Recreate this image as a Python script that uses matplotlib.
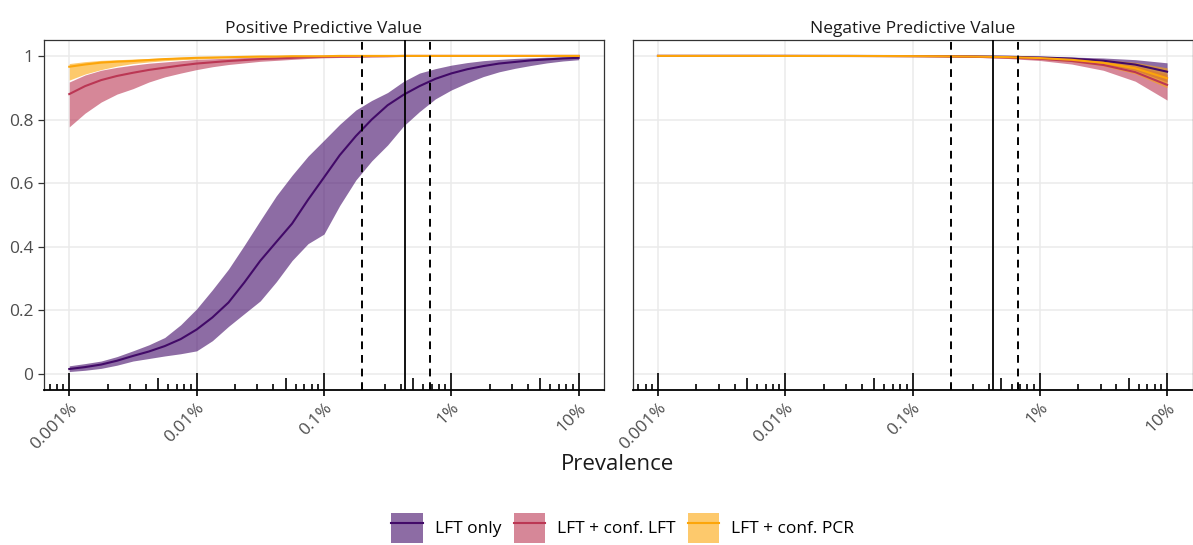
import numpy as np
import matplotlib
matplotlib.use('Agg')
import matplotlib.pyplot as plt
from matplotlib.patches import Patch
from matplotlib.lines import Line2D
import matplotlib.transforms as mtrans

plt.rcParams['font.family'] = ['Open Sans', 'DejaVu Sans']

### Data
# PPV panel, eighth-decade steps (percent)
prev_ppv = [0.001, 0.00133, 0.00178, 0.00237, 0.00316, 0.00422, 0.00562, 0.0075,
            0.01, 0.0133, 0.0178, 0.0237, 0.0316, 0.0422, 0.0562, 0.075,
            0.1, 0.133, 0.178, 0.237, 0.316, 0.422, 0.562, 0.75,
            1.0, 1.33, 1.78, 2.37, 3.16, 4.22, 5.62, 7.5, 10.0]
# NPV panel, quarter-decade steps (percent)
prev_npv = [0.001, 0.00178, 0.00316, 0.00562, 0.01, 0.0178, 0.0316, 0.0562,
            0.1, 0.178, 0.316, 0.562, 1.0, 1.78, 3.16, 5.62, 10.0]

tick_pos = [0.001, 0.01, 0.1, 1, 10]
tick_labels = ['0.001%', '0.01%', '0.1%', '1%', '10%']
prev_mid = 0.43            # solid line
prev_ci = [0.2, 0.68]      # dashed lines

series = ['LFT only', 'LFT + conf. LFT', 'LFT + conf. PCR']
fills = ['#420A68', '#BB3754', '#FCA50A']

# positive predictive value
ppv_lft = [0.016, 0.022, 0.030, 0.042, 0.057, 0.071, 0.088, 0.11,
           0.14, 0.178, 0.225, 0.288, 0.356, 0.415, 0.473, 0.548,
           0.618, 0.688, 0.748, 0.80, 0.845, 0.878, 0.905, 0.928,
           0.945, 0.958, 0.968, 0.976, 0.981, 0.986, 0.989, 0.992, 0.994]
ppv_lft_lo = [0.008, 0.012, 0.018, 0.028, 0.041, 0.049, 0.057, 0.064,
              0.073, 0.105, 0.15, 0.19, 0.23, 0.29, 0.357, 0.41,
              0.44, 0.53, 0.61, 0.67, 0.72, 0.78, 0.825, 0.865,
              0.893, 0.915, 0.935, 0.95, 0.961, 0.97, 0.978, 0.984, 0.988]
ppv_lft_hi = [0.026, 0.033, 0.041, 0.055, 0.073, 0.092, 0.115, 0.155,
              0.205, 0.265, 0.33, 0.405, 0.483, 0.56, 0.625, 0.685,
              0.735, 0.785, 0.83, 0.86, 0.885, 0.92, 0.946, 0.96,
              0.971, 0.979, 0.985, 0.989, 0.992, 0.994, 0.996, 0.997, 0.998]
ppv_conf = [0.88, 0.905, 0.924, 0.937, 0.947, 0.956, 0.963, 0.97,
            0.976, 0.98, 0.984, 0.987, 0.99, 0.992, 0.994, 0.996,
            0.997, 0.998, 0.998, 0.999, 0.999, 1.0, 1.0, 1.0,
            1.0, 1.0, 1.0, 1.0, 1.0, 1.0, 1.0, 1.0, 1.0]
ppv_conf_lo = [0.777, 0.82, 0.855, 0.88, 0.897, 0.918, 0.934, 0.946,
               0.957, 0.966, 0.973, 0.978, 0.983, 0.986, 0.989, 0.992,
               0.994, 0.995, 0.996, 0.997, 0.998, 0.998, 0.999, 0.999,
               0.999, 1.0, 1.0, 1.0, 1.0, 1.0, 1.0, 1.0, 1.0]
ppv_conf_hi = [0.918, 0.94, 0.955, 0.964, 0.971, 0.977, 0.981, 0.985,
               0.989, 0.991, 0.993, 0.995, 0.996, 0.997, 0.998, 0.999,
               0.999, 1.0, 1.0, 1.0, 1.0, 1.0, 1.0, 1.0,
               1.0, 1.0, 1.0, 1.0, 1.0, 1.0, 1.0, 1.0, 1.0]
ppv_pcr = [0.966, 0.973, 0.979, 0.982, 0.984, 0.987, 0.99, 0.992,
           0.994, 0.995, 0.996, 0.997, 0.998, 0.998, 0.999, 0.999,
           0.999, 1.0, 1.0, 1.0, 1.0, 1.0, 1.0, 1.0,
           1.0, 1.0, 1.0, 1.0, 1.0, 1.0, 1.0, 1.0, 1.0]
ppv_pcr_lo = [0.924, 0.943, 0.957, 0.968, 0.976, 0.981, 0.985, 0.988,
              0.99, 0.992, 0.994, 0.995, 0.996, 0.997, 0.998, 0.998,
              0.999, 0.999, 0.999, 1.0, 1.0, 1.0, 1.0, 1.0,
              1.0, 1.0, 1.0, 1.0, 1.0, 1.0, 1.0, 1.0, 1.0]
ppv_pcr_hi = [0.976, 0.982, 0.986, 0.988, 0.99, 0.992, 0.994, 0.996,
              0.997, 0.998, 0.998, 0.999, 0.999, 1.0, 1.0, 1.0,
              1.0, 1.0, 1.0, 1.0, 1.0, 1.0, 1.0, 1.0,
              1.0, 1.0, 1.0, 1.0, 1.0, 1.0, 1.0, 1.0, 1.0]

# negative predictive value
npv_lft = [1.0, 1.0, 1.0, 1.0, 1.0, 0.9999, 0.9999, 0.9997, 0.9995, 0.9992,
           0.9985, 0.9974, 0.9953, 0.9916, 0.9849, 0.9728, 0.9504]
npv_lft_lo = [1.0, 1.0, 1.0, 1.0, 0.9999, 0.9999, 0.9997, 0.9996, 0.9992, 0.9986,
              0.9975, 0.9955, 0.992, 0.9857, 0.9745, 0.9545, 0.9184]
npv_lft_hi = [1.0, 1.0, 1.0, 1.0, 1.0, 1.0, 0.9999, 0.9999, 0.9998, 0.9996,
              0.9994, 0.9989, 0.998, 0.9964, 0.9935, 0.9882, 0.9783]
npv_conf = [1.0, 1.0, 1.0, 1.0, 0.9999, 0.9998, 0.9997, 0.9995, 0.9991, 0.9984,
            0.9972, 0.9949, 0.991, 0.984, 0.9715, 0.9491, 0.909]
npv_conf_lo = [1.0, 1.0, 0.9999, 0.9999, 0.9999, 0.9997, 0.9995, 0.9992, 0.9986, 0.9974,
               0.9954, 0.9919, 0.9856, 0.9744, 0.9548, 0.9205, 0.8612]
npv_conf_hi = [1.0, 1.0, 1.0, 1.0, 0.9999, 0.9999, 0.9998, 0.9997, 0.9994, 0.999,
               0.9983, 0.9969, 0.9945, 0.9901, 0.9824, 0.9683, 0.9424]
npv_pcr = [1.0, 1.0, 1.0, 1.0, 0.9999, 0.9999, 0.9998, 0.9996, 0.9993, 0.9988,
           0.9978, 0.9962, 0.9932, 0.9878, 0.9783, 0.9611, 0.9298]
npv_pcr_lo = [1.0, 1.0, 1.0, 0.9999, 0.9999, 0.9998, 0.9997, 0.9994, 0.999, 0.9982,
              0.9968, 0.9944, 0.99, 0.9822, 0.9684, 0.9438, 0.9]
npv_pcr_hi = [1.0, 1.0, 1.0, 1.0, 1.0, 0.9999, 0.9999, 0.9998, 0.9997, 0.9994,
              0.9989, 0.998, 0.9965, 0.9937, 0.9887, 0.9796, 0.9626]

panels = [
    ('Positive Predictive Value', prev_ppv,
     [(ppv_lft, ppv_lft_lo, ppv_lft_hi), (ppv_conf, ppv_conf_lo, ppv_conf_hi),
      (ppv_pcr, ppv_pcr_lo, ppv_pcr_hi)]),
    ('Negative Predictive Value', prev_npv,
     [(npv_lft, npv_lft_lo, npv_lft_hi), (npv_conf, npv_conf_lo, npv_conf_hi),
      (npv_pcr, npv_pcr_lo, npv_pcr_hi)]),
]

### Figure
fig = plt.figure(figsize=(11.93, 5.45), dpi=100)
ax_l = fig.add_axes([0.0367, 0.2844, 0.4697, 0.6422])
ax_r = fig.add_axes([0.5302, 0.2844, 0.4694, 0.6422])

grey = '#4D4D4D'
fs = 12.5
for ax, (title, prev, data) in zip([ax_l, ax_r], panels):
    ax.set_xscale('log')
    ax.set_xlim(10**-3.2, 10**1.2)
    ax.set_ylim(-0.05, 1.05)

    # ribbons first, then mean lines on top
    for (m, lo, hi), c in zip(data, fills):
        ax.fill_between(prev, lo, hi, color=c, alpha=0.6, lw=0, zorder=2)
    for (m, lo, hi), c in zip(data, fills):
        ax.plot(prev, m, color=c, lw=1.5, zorder=3)

    ax.axvline(prev_mid, color='black', lw=1.3, zorder=4)
    for v in prev_ci:
        ax.axvline(v, color='black', lw=1.4, ls=(0, (4, 3)), zorder=4)

    # grid
    ax.set_xticks(tick_pos)
    ax.set_xticklabels(tick_labels, rotation=45, ha='right', va='top',
                       rotation_mode='anchor', color=grey, fontsize=fs)
    ax.xaxis.set_minor_locator(plt.NullLocator())
    ax.set_yticks([0, 0.2, 0.4, 0.6, 0.8, 1.0])
    ax.grid(True, color='#EBEBEB', lw=1.1, zorder=0)
    ax.set_axisbelow(True)

    # log ticks along bottom (annotation_logticks style)
    trans = mtrans.blended_transform_factory(ax.transData, ax.transAxes)
    for dec in range(-4, 2):
        for k in range(1, 10):
            x = k * 10.0**dec
            h = 0.049 if k == 1 else (0.034 if k == 5 else 0.017)
            ax.plot([x, x], [0, h], color='black', lw=1.2, transform=trans,
                    clip_on=True, zorder=5, solid_capstyle='butt')

    ax.tick_params(axis='x', length=4, width=1.2, color='black', pad=3)
    for s in ['top', 'right', 'left']:
        ax.spines[s].set_color('#333333')
        ax.spines[s].set_linewidth(0.9)
    ax.spines['bottom'].set_color('black')
    ax.spines['bottom'].set_linewidth(1.3)

    ax.set_title(title, fontsize=fs, color='#1A1A1A', pad=5)

ax_l.set_yticklabels(['0', '0.2', '0.4', '0.6', '0.8', '1'])
ax_l.tick_params(axis='y', length=4, width=0.9, color='#333333', labelcolor=grey,
                 labelsize=fs)
ax_r.tick_params(axis='y', length=0, labelleft=False)

fig.text(0.518, 0.147, 'Prevalence', ha='center', va='center', fontsize=16,
         color='#1A1A1A')

handles = [(Patch(facecolor=c, alpha=0.6, lw=0), Line2D([], [], color=c, lw=1.5))
           for c in fills]
fig.legend(handles, series, loc='center', bbox_to_anchor=(0.522, 0.031), ncol=3,
           frameon=False, fontsize=fs, handlelength=1.8, handleheight=2.3,
           handletextpad=0.7, columnspacing=0.7)

plt.savefig('out.png', dpi=100)
